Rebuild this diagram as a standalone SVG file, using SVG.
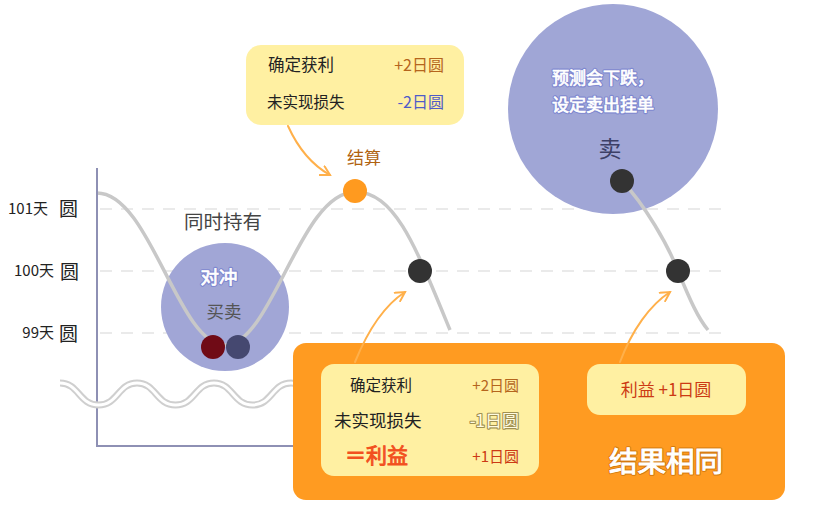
<svg xmlns="http://www.w3.org/2000/svg" width="816" height="508" viewBox="0 0 816 508">
<defs>
<style>
text{font-family:"Noto Sans CJK SC","Noto Sans",sans-serif;}
.dash{stroke:#e4e4e4;stroke-width:1.5;stroke-dasharray:12 9;fill:none;}
.curve{stroke:#c8c8c8;stroke-width:3.5;fill:none;}
.arrow{stroke:#ffb04a;stroke-width:2;fill:none;stroke-linecap:round;}
.lbl{font-size:15px;fill:#222;}
.yen{font-size:19px;fill:#222;}
.yel{fill:#fff0a2;}
.brown{fill:#b5651d;}
.red{fill:#cc3a14;}
.halo{stroke:#7f88d0;stroke-width:3;stroke-linejoin:round;fill:#7f88d0;}
.wb{fill:#fff;stroke:#fff;stroke-width:0.7;}
</style>
<marker id="ah" viewBox="0 0 12 12" refX="10" refY="6" markerWidth="12" markerHeight="12" markerUnits="userSpaceOnUse" orient="auto">
<path d="M1,1 L10,6 L1,11" fill="none" stroke="#ffb04a" stroke-width="2" stroke-linecap="round"/>
</marker>
</defs>
<rect width="816" height="508" fill="#fff"/>

<g id="grid">
<line class="dash" x1="100" y1="209" x2="722" y2="209"/>
<line class="dash" x1="100" y1="271" x2="722" y2="271"/>
<line class="dash" x1="100" y1="333" x2="722" y2="333"/>
</g>

<g id="axis-labels">
<text class="lbl" x="48" y="214" text-anchor="end">101天</text><text class="yen" x="59" y="216">圆</text>
<text class="lbl" x="54" y="276" text-anchor="end">100天</text><text class="yen" x="60" y="279">圆</text>
<text class="lbl" x="54" y="338" text-anchor="end">99天</text><text class="yen" x="59" y="341">圆</text>
</g>

<g id="hedge-circle">
<circle cx="225" cy="307" r="64" fill="#a1a6d6"/>
<text class="halo" x="219" y="284" font-size="18.5" text-anchor="middle">对冲</text>
<text class="wb" x="219" y="284" font-size="18.5" text-anchor="middle">对冲</text>
<text x="224" y="318" font-size="17.5" fill="#555" text-anchor="middle">买卖</text>
</g>
<text id="hold-label" x="223" y="229" font-size="19.5" fill="#444" text-anchor="middle">同时持有</text>

<g id="sell-circle">
<circle cx="613" cy="109" r="105" fill="#a0a6d6"/>
<text class="halo" x="552" y="84" font-size="17">预测会下跌，</text>
<text class="wb" x="552" y="84" font-size="17">预测会下跌，</text>
<text class="halo" x="552" y="111" font-size="17">设定卖出挂单</text>
<text class="wb" x="552" y="111" font-size="17">设定卖出挂单</text>
<text x="610" y="157" font-size="23" fill="#3c3f66" text-anchor="middle">卖</text>
</g>

<g id="curves">
<path class="curve" d="M97,193 C150,193 178,345 225,345 C272,345 300,192 355,192 C395,192 415,245 450,330"/>
<path class="curve" d="M622,181 C645,205 668,245 678,271 C690,300 698,318 708,330"/>
</g>

<g id="axis">
<line x1="97" y1="168" x2="97" y2="447" stroke="#8e90b4" stroke-width="2"/>
<line x1="96" y1="446" x2="300" y2="446" stroke="#8e90b4" stroke-width="2"/>
</g>

<g id="break">
<path d="M60,383 C79,383 79,405 98.5,405 C118,405 118,383 137,383 C156,383 156,405 175.5,405 C195,405 195,383 214,383 C233,383 233,405 252.5,405 C272,405 272,383 291,383 C300,383 305,388 310,392" fill="none" stroke="#cfcfcf" stroke-width="7"/>
<path d="M60,383 C79,383 79,405 98.5,405 C118,405 118,383 137,383 C156,383 156,405 175.5,405 C195,405 195,383 214,383 C233,383 233,405 252.5,405 C272,405 272,383 291,383 C300,383 305,388 310,392" fill="none" stroke="#fff" stroke-width="3"/>
</g>

<g id="balls">
<circle cx="213" cy="347" r="12" fill="#700b16"/>
<circle cx="238" cy="347" r="12" fill="#454870"/>
<circle cx="355" cy="191" r="12" fill="#ff9a1f"/>
<circle cx="420" cy="271" r="12" fill="#333"/>
<circle cx="622" cy="181" r="12" fill="#333"/>
<circle cx="678" cy="271" r="12" fill="#333"/>
</g>

<g id="settle-bubble">
<rect class="yel" x="246" y="45" width="218" height="80" rx="15"/>
<text x="268" y="71" font-size="16.5" fill="#222">确定获利</text>
<text x="444" y="71" font-size="16" class="brown" text-anchor="end">+2日圆</text>
<text x="267" y="108" font-size="15.5" fill="#222">未实现损失</text>
<text x="444" y="108" font-size="16" fill="#4f5cc8" text-anchor="end">-2日圆</text>
</g>
<text id="settle-label" x="364" y="164" font-size="17" fill="#b0620f" text-anchor="middle">结算</text>

<g id="result-panel">
<rect x="293" y="343" width="492" height="157" rx="13" fill="#ff9b21"/>
<rect class="yel" x="321" y="364" width="218" height="112" rx="13"/>
<text x="350" y="391" font-size="15.5" fill="#222">确定获利</text>
<text x="519" y="391" font-size="15" class="brown" text-anchor="end">+2日圆</text>
<text x="334" y="427" font-size="17.5" fill="#222">未实现损失</text>
<text x="519" y="427" font-size="17" fill="#a09050" stroke="#a09050" stroke-width="2.2" stroke-linejoin="round" text-anchor="end">-1日圆</text>
<text x="519" y="427" font-size="17" fill="#fffbe0" text-anchor="end">-1日圆</text>
<text x="345" y="463" font-size="21" fill="#f2501e" stroke="#f2501e" stroke-width="0.9">＝利益</text>
<text x="519" y="462" font-size="15" class="red" text-anchor="end">+1日圆</text>
<rect class="yel" x="587" y="364" width="159" height="51" rx="13"/>
<text x="666" y="396" font-size="17" class="red" text-anchor="middle">利益 +1日圆</text>
<text x="666" y="472" font-size="28.5" fill="#b86200" stroke="#b86200" stroke-width="3" stroke-linejoin="round" text-anchor="middle" opacity="0.6">结果相同</text>
<text x="666" y="472" font-size="28.5" fill="#fff" stroke="#fff" stroke-width="1" text-anchor="middle">结果相同</text>
</g>

<g id="connectors">
<path class="arrow" d="M288,126 C298,148 312,165 330,175" marker-end="url(#ah)"/>
<path class="arrow" d="M355,362 C368,330 385,305 405,292" marker-end="url(#ah)"/>
<path class="arrow" d="M620,362 C632,330 650,305 670,292" marker-end="url(#ah)"/>
</g>
</svg>
